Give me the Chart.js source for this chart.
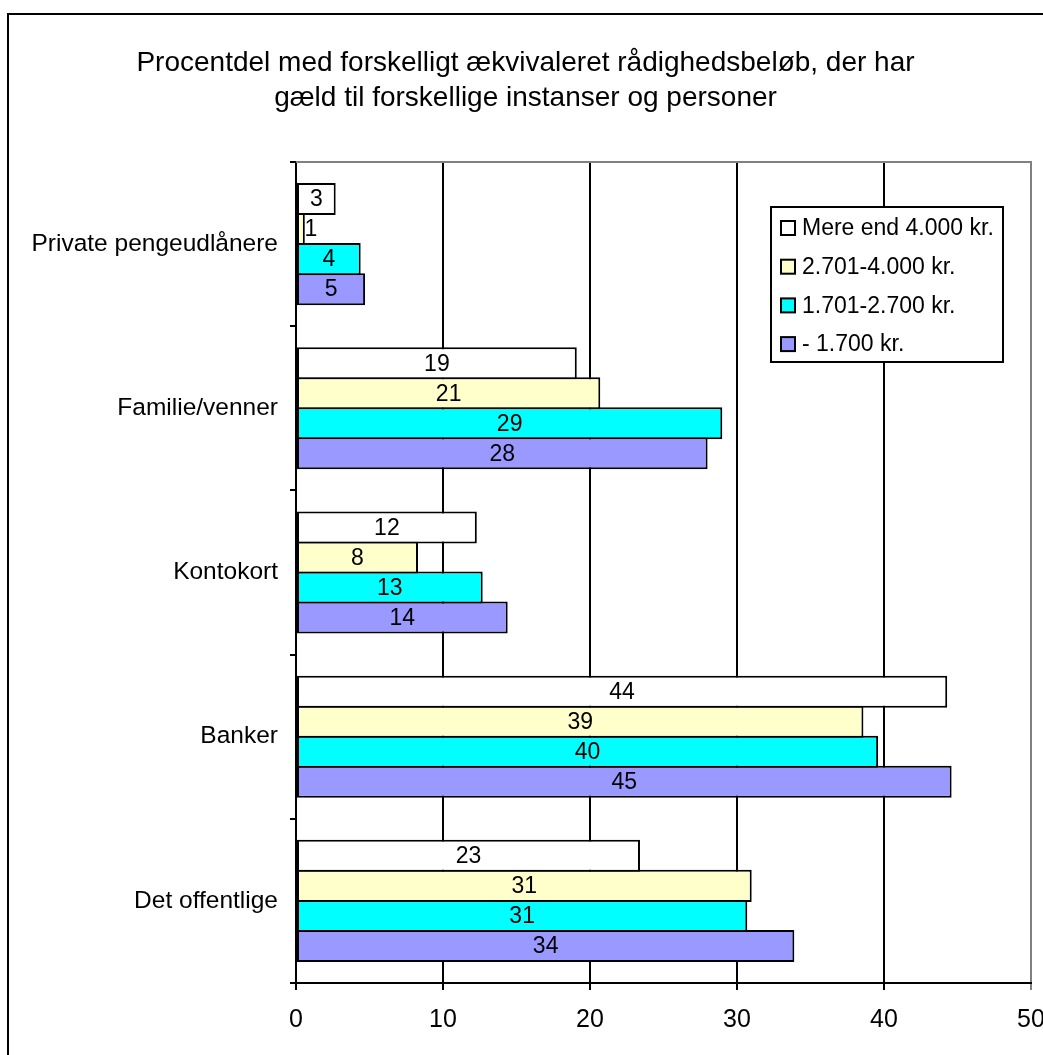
<!DOCTYPE html>
<html>
<head>
<meta charset="utf-8">
<script src="https://cdn.jsdelivr.net/npm/chart.js@4/dist/chart.umd.min.js"></script>
<style>
html,body{margin:0;padding:0;background:#fff;}
#wrap{width:1043px;height:1055px;position:relative;overflow:hidden;}
</style>
</head>
<body>
<div id="wrap"><canvas id="c" width="1043" height="1055"></canvas></div>
<script>
const categories = ['Private pengeudlånere', 'Familie/venner', 'Kontokort', 'Banker', 'Det offentlige'];
const seriesNames = ['Mere end 4.000 kr.', '2.701-4.000 kr.', '1.701-2.700 kr.', '- 1.700 kr.'];
const over4000 = [2.7, 19.1, 12.3, 44.3, 23.4];
const from2701 = [0.6, 20.7, 8.3, 38.6, 31.0];
const from1701 = [4.4, 29.0, 12.7, 39.6, 30.7];
const under1700 = [4.7, 28.0, 14.4, 44.6, 33.9];
const xTicks = [0, 10, 20, 30, 40, 50];
const titleLines = ['Procentdel med forskelligt ækvivaleret rådighedsbeløb, der har', 'gæld til forskellige instanser og personer'];

const colors = ['#FFFFFF', '#FFFFCC', '#00FFFF', '#9999FF'];
const FONT = "'Liberation Sans', Arial, sans-serif";

const seriesData = [over4000, from2701, from1701, under1700];

const datasets = seriesData.map((d, i) => ({
  label: seriesNames[i],
  data: d,
  backgroundColor: colors[i],
  borderColor: '#000',
  borderWidth: 2,
  borderSkipped: false,
  categoryPercentage: 0.7317,
  barPercentage: 1.0667
}));

const framePlugin = {
  id: 'frame',
  beforeDraw(chart) {
    const ctx = chart.ctx;
    ctx.save();
    ctx.fillStyle = '#fff';
    ctx.fillRect(0, 0, chart.width, chart.height);
    ctx.restore();
  },
  beforeDatasetsDraw(chart) {
    const ctx = chart.ctx, a = chart.chartArea;
    ctx.save();
    ctx.strokeStyle = '#808080';
    ctx.lineWidth = 2;
    ctx.beginPath();
    ctx.moveTo(a.left, a.top);
    ctx.lineTo(a.right + 1, a.top);
    ctx.stroke();
    ctx.restore();
  },
  afterDraw(chart) {
    const ctx = chart.ctx;
    ctx.save();
    ctx.strokeStyle = '#000';
    ctx.lineWidth = 2;
    ctx.strokeRect(8, 14, 2000, 2000);
    // legend
    const lx = 771, ly = 207, lw = 232, lh = 155;
    ctx.fillStyle = '#fff';
    ctx.fillRect(lx, ly, lw, lh);
    ctx.strokeRect(lx, ly, lw, lh);
    ctx.font = '23px ' + FONT;
    ctx.textBaseline = 'middle';
    ctx.textAlign = 'left';
    chart.data.datasets.forEach((ds, i) => {
      const cy = 228 + i * 38.7;
      ctx.fillStyle = ds.backgroundColor;
      ctx.fillRect(781, cy - 7, 14, 14);
      ctx.lineWidth = 2;
      ctx.strokeStyle = '#000';
      ctx.strokeRect(781, cy - 7, 14, 14);
      ctx.fillStyle = '#000';
      ctx.fillText(ds.label, 802, cy + 1);
    });
    ctx.restore();
  },
  afterDatasetsDraw(chart) {
    const ctx = chart.ctx;
    ctx.save();
    ctx.font = '23px ' + FONT;
    ctx.fillStyle = '#000';
    ctx.textAlign = 'center';
    ctx.textBaseline = 'middle';
    chart.data.datasets.forEach((ds, di) => {
      const meta = chart.getDatasetMeta(di);
      meta.data.forEach((el, j) => {
        const v = ds.data[j];
        let cx = (el.base + el.x) / 2;
        cx = Math.max(cx, el.base + 14);
        ctx.fillText(String(Math.round(v)), cx, el.y + 1);
      });
    });
    ctx.restore();
  }
};

new Chart(document.getElementById('c'), {
  type: 'bar',
  data: { labels: categories, datasets },
  options: {
    indexAxis: 'y',
    responsive: false,
    animation: false,
    layout: { padding: { left: 20, right: 12, top: 46, bottom: 0 } },
    plugins: {
      legend: { display: false },
      tooltip: { enabled: false },
      title: {
        display: true,
        text: titleLines,
        color: '#000',
        font: { family: FONT, size: 28, weight: 'normal', lineHeight: 1.25 },
        padding: { top: 0, bottom: 46 }
      }
    },
    scales: {
      x: {
        type: 'linear',
        min: xTicks[0],
        max: xTicks[xTicks.length - 1],
        afterBuildTicks(scale) { scale.ticks = xTicks.map(v => ({ value: v })); },
        afterFit(scale) { scale.height = 72; scale.paddingLeft = 0; scale.paddingRight = 0; },
        ticks: { color: '#000', font: { family: FONT, size: 25 }, padding: 15, maxRotation: 0 },
        grid: {
          color: c => (c.tick && c.tick.value === 50) ? '#808080' : '#000',
          lineWidth: 2,
          tickLength: 7,
          drawTicks: true
        },
        border: { display: true, color: '#000', width: 2 }
      },
      y: {
        type: 'category',
        afterFit(scale) { scale.width = 276; scale.paddingTop = 0; scale.paddingBottom = 0; },
        ticks: { color: '#000', font: { family: FONT, size: 24.5 }, padding: 12 },
        grid: { drawOnChartArea: false, color: '#000', lineWidth: 2, tickLength: 6, offset: true },
        border: { display: true, color: '#000', width: 2 }
      }
    }
  },
  plugins: [framePlugin]
});
</script>
</body>
</html>
